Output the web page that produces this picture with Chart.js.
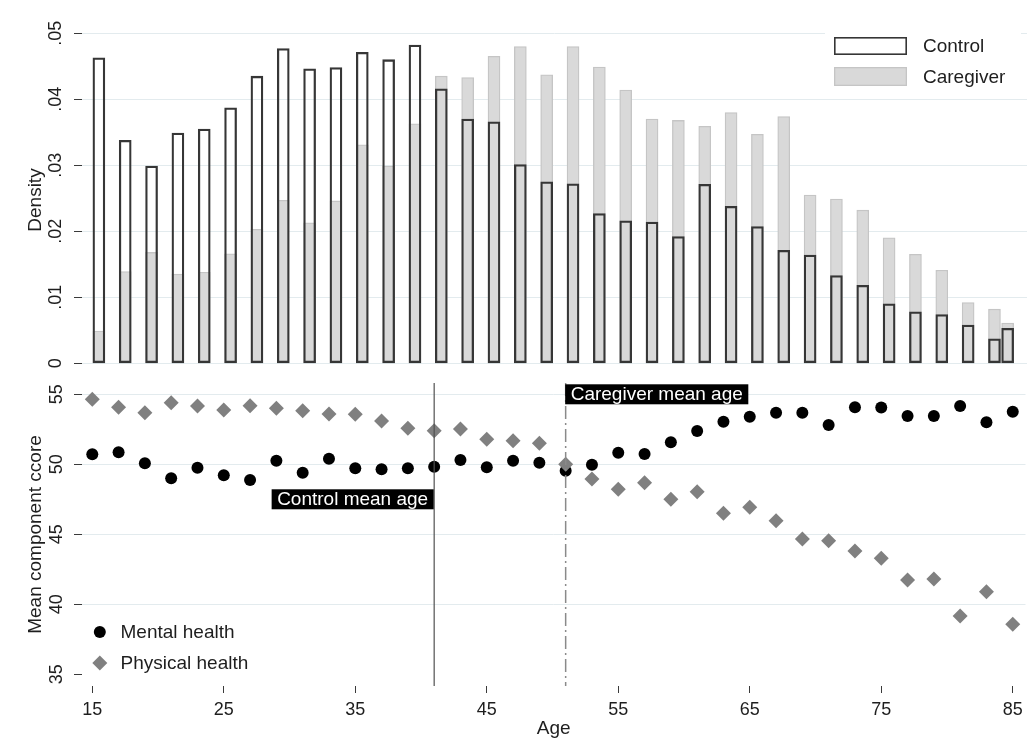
<!DOCTYPE html>
<html>
<head>
<meta charset="utf-8">
<title>Age distribution and health component scores</title>
<script src="https://cdn.jsdelivr.net/npm/chart.js@4.4.1/dist/chart.umd.min.js"></script>
<style>
  html, body { margin: 0; padding: 0; background: #ffffff; }
  #wrap { position: relative; width: 1033px; height: 755px; overflow: hidden; background: #ffffff; }
  #wrap canvas { position: absolute; left: 0; top: 0; }
</style>
</head>
<body>
<div id="wrap">
  <canvas id="hist" width="1033" height="400"></canvas>
  <canvas id="scores" width="1033" height="755"></canvas>
</div>
<script>
// ---- Age histogram (density by two-year bin) ----
const binCenters = [15.5, 17.5, 19.5, 21.5, 23.5, 25.5, 27.5, 29.5, 31.5, 33.5,
                    35.5, 37.5, 39.5, 41.5, 43.5, 45.5, 47.5, 49.5, 51.5, 53.5,
                    55.5, 57.5, 59.5, 61.5, 63.5, 65.5, 67.5, 69.5, 71.5, 73.5,
                    75.5, 77.5, 79.5, 81.5, 83.5, 84.5];
const controlDensity = [0.0463, 0.0338, 0.0299, 0.0349, 0.0355, 0.0387, 0.0435, 0.0477, 0.0446, 0.0448,
                        0.0471, 0.0460, 0.0482, 0.0416, 0.0370, 0.0366, 0.0301, 0.0275, 0.0272, 0.0227,
                        0.0216, 0.0214, 0.0192, 0.0271, 0.0238, 0.0207, 0.0171, 0.0164, 0.0133, 0.0118,
                        0.0090, 0.0078, 0.0074, 0.0058, 0.0037, 0.0053];
const caregiverDensity = [0.0049, 0.0139, 0.0168, 0.0135, 0.0138, 0.0166, 0.0203, 0.0247, 0.0213, 0.0246,
                          0.0331, 0.0299, 0.0363, 0.0435, 0.0433, 0.0465, 0.0480, 0.0437, 0.0480, 0.0449,
                          0.0414, 0.0370, 0.0368, 0.0359, 0.0380, 0.0347, 0.0374, 0.0255, 0.0249, 0.0232,
                          0.0190, 0.0165, 0.0141, 0.0092, 0.0082, 0.0061];
const densityTicks = [0, 0.01, 0.02, 0.03, 0.04, 0.05];

// ---- Mean SF-12 component scores by age ----
const ages = [15, 17, 19, 21, 23, 25, 27, 29, 31, 33,
              35, 37, 39, 41, 43, 45, 47, 49, 51, 53,
              55, 57, 59, 61, 63, 65, 67, 69, 71, 73,
              75, 77, 79, 81, 83, 85];
const mentalHealth = [50.71, 50.86, 50.07, 49.00, 49.76, 49.21, 48.88, 50.26, 49.40, 50.40,
                      49.71, 49.64, 49.71, 49.83, 50.31, 49.79, 50.26, 50.11, 49.54, 49.97,
                      50.83, 50.74, 51.57, 52.38, 53.04, 53.40, 53.69, 53.69, 52.81, 54.07,
                      54.05, 53.45, 53.45, 54.16, 53.00, 53.76];
const physicalHealth = [54.64, 54.07, 53.69, 54.40, 54.16, 53.88, 54.19, 54.00, 53.83, 53.59,
                        53.57, 53.09, 52.57, 52.40, 52.52, 51.79, 51.69, 51.50, 50.00, 48.95,
                        48.21, 48.69, 47.50, 48.04, 46.50, 46.93, 45.97, 44.66, 44.54, 43.81,
                        43.29, 41.74, 41.81, 39.16, 40.90, 38.57];
const scoreTicks = [35, 40, 45, 50, 55];
const ageTicks = [15, 25, 35, 45, 55, 65, 75, 85];

const controlMeanAge = 41;
const caregiverMeanAge = 51;

// ---- shared look ----
const FONT = "'Liberation Sans', Arial, Helvetica, sans-serif";
const INK = '#1e1e1e';
const GRID = '#e3ebee';
const TICK = '#3a3a3a';
const AGE_MIN = 14.218;
const AGE_MAX = 85.97;

Chart.defaults.font.family = FONT;
Chart.defaults.color = INK;
Chart.defaults.animation = false;

const toPoints = (xs, ys) => xs.map((x, i) => ({ x: x, y: ys[i] }));
const fixedTicks = values => scale => { scale.ticks = values.map(v => ({ value: v })); };

// legend for the histogram, top-right inside the plot
const histLegend = {
  id: 'histLegend',
  afterDraw(chart) {
    const ctx = chart.ctx;
    ctx.save();
    ctx.fillStyle = '#ffffff';
    ctx.fillRect(825, 22, 196, 71);
    const rows = [
      { ds: chart.data.datasets[0], top: 37, h: 18 },
      { ds: chart.data.datasets[1], top: 67, h: 19 }
    ];
    rows.forEach(r => {
      const bw = r.ds.borderWidth;
      ctx.fillStyle = r.ds.backgroundColor;
      ctx.fillRect(834, r.top, 73, r.h);
      ctx.strokeStyle = r.ds.borderColor;
      ctx.lineWidth = bw;
      ctx.strokeRect(834 + bw / 2, r.top + bw / 2, 73 - bw, r.h - bw);
      ctx.fillStyle = INK;
      ctx.font = '19px ' + FONT;
      ctx.textAlign = 'left';
      ctx.textBaseline = 'middle';
      ctx.fillText(r.ds.label, 923, r.top + r.h / 2 + 0.8);
    });
    ctx.restore();
  }
};

new Chart(document.getElementById('hist'), {
  type: 'bar',
  data: {
    datasets: [
      { label: 'Control', data: toPoints(binCenters, controlDensity),
        backgroundColor: 'rgba(255,255,255,0)', borderColor: '#363636', borderWidth: 1.6,
        borderSkipped: false, barThickness: 12, grouped: false, order: 0 },
      { label: 'Caregiver', data: toPoints(binCenters, caregiverDensity),
        backgroundColor: '#d9d9d9', borderColor: '#c5c5c5', borderWidth: 1.3,
        borderSkipped: false, barThickness: 12, grouped: false, order: 1 }
    ]
  },
  options: {
    responsive: false,
    devicePixelRatio: 1,
    layout: { padding: { top: 16.8, bottom: 16.7, left: 0, right: 6 } },
    plugins: { legend: { display: false }, tooltip: { enabled: false } },
    scales: {
      x: { type: 'linear', min: AGE_MIN, max: AGE_MAX, offset: false, display: false,
           grid: { offset: false } },
      y: {
        min: -0.00303, max: 0.0525,
        afterBuildTicks: fixedTicks(densityTicks),
        afterFit: s => { s.width = 82; },
        border: { display: false },
        grid: { color: GRID, lineWidth: 1, tickColor: TICK, tickLength: 8, tickWidth: 1 },
        ticks: {
          autoSkip: false, minRotation: 90, maxRotation: 90, crossAlign: 'center',
          padding: 5.2, font: { size: 18 }, color: INK,
          callback: v => (v === 0 ? '0' : v.toFixed(2).replace(/^0/, ''))
        },
        title: { display: true, text: 'Density', font: { size: 19 }, color: INK,
                 padding: { top: 24.6, bottom: 0 } }
      }
    }
  },
  plugins: [histLegend]
});

// mean-age reference lines, their labels and the series legend
const scoreDecor = {
  id: 'scoreDecor',
  afterDatasetsDraw(chart) {
    const { ctx, chartArea, scales } = chart;
    const xs = scales.x, ys = scales.y;
    ctx.save();

    const xc = xs.getPixelForValue(controlMeanAge);
    ctx.strokeStyle = '#505050';
    ctx.lineWidth = 1.2;
    ctx.setLineDash([]);
    ctx.beginPath();
    ctx.moveTo(xc, chartArea.top);
    ctx.lineTo(xc, chartArea.bottom);
    ctx.stroke();

    const xg = xs.getPixelForValue(caregiverMeanAge);
    ctx.strokeStyle = '#8a8a8a';
    ctx.lineWidth = 1.5;
    ctx.setLineDash([13, 4, 2, 4]);
    ctx.beginPath();
    ctx.moveTo(xg, chartArea.top);
    ctx.lineTo(xg, chartArea.bottom);
    ctx.stroke();
    ctx.setLineDash([]);

    ctx.font = '19px ' + FONT;
    ctx.textBaseline = 'middle';
    const tag = (text, x, value, side) => {
      const w = ctx.measureText(text).width + 11;
      const y = ys.getPixelForValue(value);
      const left = side === 'left' ? x - w : x;
      ctx.fillStyle = '#000000';
      ctx.fillRect(left, y - 10, w, 20);
      ctx.fillStyle = '#ffffff';
      ctx.textAlign = 'left';
      ctx.fillText(text, left + 5.5, y + 0.8);
    };
    tag('Control mean age', xc - 0.5, 47.5, 'left');
    tag('Caregiver mean age', xg - 0.5, 55, 'right');

    const items = [
      { ds: chart.data.datasets[0], y: 632 },
      { ds: chart.data.datasets[1], y: 663 }
    ];
    items.forEach(it => {
      ctx.fillStyle = it.ds.backgroundColor;
      ctx.strokeStyle = it.ds.backgroundColor;
      Chart.helpers.drawPoint(ctx, {
        pointStyle: it.ds.pointStyle, radius: it.ds.pointRadius, rotation: 0, borderWidth: 0
      }, 99.8, it.y);
      ctx.fillStyle = INK;
      ctx.textAlign = 'left';
      ctx.fillText(it.ds.label, 120.5, it.y + 0.6);
    });
    ctx.restore();
  }
};

new Chart(document.getElementById('scores'), {
  type: 'scatter',
  data: {
    datasets: [
      { label: 'Mental health', data: toPoints(ages, mentalHealth),
        pointStyle: 'circle', pointRadius: 6, pointHoverRadius: 6,
        backgroundColor: '#000000', borderColor: '#000000', borderWidth: 0, order: 1 },
      { label: 'Physical health', data: toPoints(ages, physicalHealth),
        pointStyle: 'rectRot', pointRadius: 7.5, pointHoverRadius: 7.5,
        backgroundColor: '#808080', borderColor: '#808080', borderWidth: 0, order: 0 }
    ]
  },
  options: {
    responsive: false,
    devicePixelRatio: 1,
    layout: { padding: { top: 383, bottom: 0, left: 0, right: 6 } },
    plugins: { legend: { display: false }, tooltip: { enabled: false } },
    scales: {
      x: {
        type: 'linear', min: AGE_MIN, max: AGE_MAX,
        afterBuildTicks: fixedTicks(ageTicks),
        afterFit: s => { s.height = 69; },
        border: { display: false },
        grid: { drawOnChartArea: false, tickColor: TICK, tickLength: 7, tickWidth: 1 },
        ticks: { autoSkip: false, maxRotation: 0, font: { size: 18 }, color: INK, padding: 6.7 },
        title: { display: true, text: 'Age', font: { size: 19 }, color: INK,
                 padding: { top: 0, bottom: 14.7 } }
      },
      y: {
        min: 34.164, max: 55.807,
        afterBuildTicks: fixedTicks(scoreTicks),
        afterFit: s => { s.width = 82; },
        border: { display: false },
        grid: {
          color: c => (c.tick && c.tick.value === 35 ? 'rgba(0,0,0,0)' : GRID),
          lineWidth: 1, tickColor: TICK, tickLength: 8, tickWidth: 1
        },
        ticks: { autoSkip: false, minRotation: 90, maxRotation: 90, crossAlign: 'center',
                 padding: 7, font: { size: 18 }, color: INK },
        title: { display: true, text: 'Mean component ccore', font: { size: 19 }, color: INK,
                 padding: { top: 24.6, bottom: 0 } }
      }
    }
  },
  plugins: [scoreDecor]
});
</script>
</body>
</html>
